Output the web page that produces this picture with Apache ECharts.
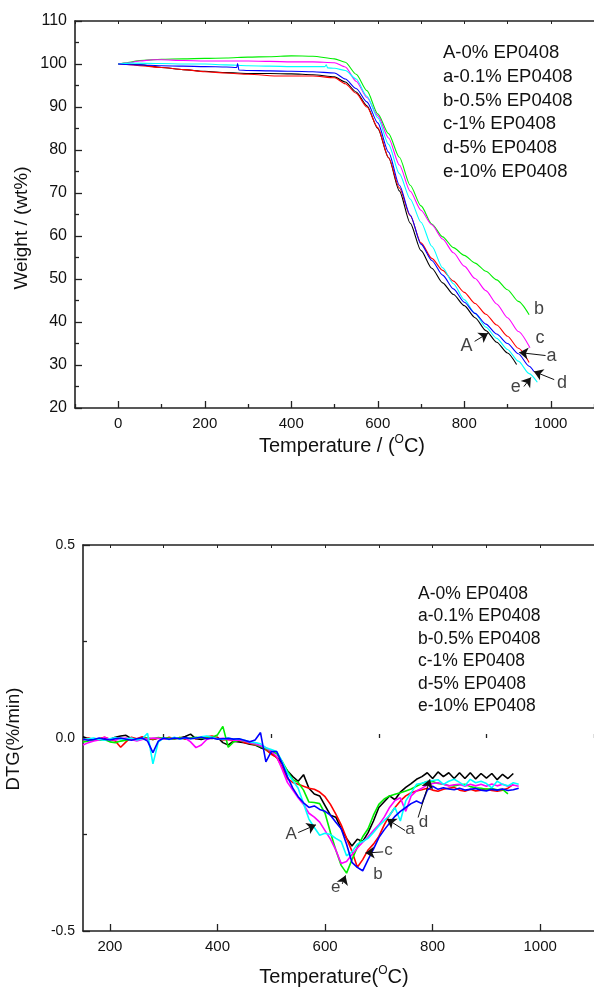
<!DOCTYPE html>
<html>
<head>
<meta charset="utf-8">
<script src="https://cdn.jsdelivr.net/npm/echarts@6/dist/echarts.min.js"></script>
<style>html,body{margin:0;padding:0;background:#fff}#c{width:594px;height:989px}</style>
</head>
<body>
<div id="c"></div>
<script>
// ---------- TGA (top) ----------
const tgaT_A = [0,20,50,100,150,200,250,300,350,400,450,500,525,550,575,600,625,650,675,700,725,750,775,800,825,850,875,900,921];
const tgaW_A = [100,100,99.8,99.2,98.7,98.3,98.0,97.8,97.8,97.7,97.5,97.0,95.8,93.5,90.3,85.0,78.2,70.5,63.0,56.6,52.5,49.1,46.4,43.8,41.0,38.0,35.3,32.8,30.1];
const tgaT_a = [0,20,50,100,150,200,250,300,375,450,500,525,550,575,600,625,650,675,700,725,750,775,800,825,850,875,900,925,950];
const tgaW_a = [100,99.9,99.6,99.2,98.7,98.2,97.9,97.6,97.2,97.2,96.8,95.4,93.2,90.0,85.2,78.2,71.2,64.7,58.4,54.8,52.0,49.5,46.9,44.3,41.8,39.3,36.7,33.9,30.6];
const tgaT_b = [0,20,50,100,150,200,250,300,350,400,450,500,525,550,575,600,625,650,675,700,725,750,775,800,825,850,875,900,925,950];
const tgaW_b = [100,100.3,100.8,101.1,101.2,101.3,101.4,101.6,101.7,101.9,101.8,101.2,100.4,97.6,93.8,88.4,83.8,78.3,71.8,67.0,62.8,59.8,57.3,55.5,53.7,51.8,49.8,47.5,44.8,41.7];
const tgaT_c = [0,20,50,80,100,150,200,250,300,350,400,450,500,525,550,575,600,625,650,675,700,725,750,775,800,825,850,875,900,925,952];
const tgaW_c = [100,100.2,100.7,101.0,101.0,100.8,100.7,100.7,100.7,100.6,100.5,100.5,100.3,99.3,96.0,92.2,88.0,82.8,76.5,70.4,66.0,62.6,59.3,56.1,53.0,50.1,47.3,44.2,41.0,37.8,34.0];
const tgaT_d = [0,50,71,100,150,200,250,274,276,279,300,350,400,450,500,525,550,575,600,625,650,675,700,725,750,775,800,825,850,875,900,925,950,961];
const tgaW_d = [100,99.8,99.7,99.6,99.5,99.4,99.3,99.2,100.1,98.6,98.5,98.4,98.3,98.2,97.9,96.5,94.3,91.2,86.3,79.5,71.8,64.9,58.1,54.3,50.9,47.7,44.6,42.0,39.5,37.2,35.0,32.6,29.7,28.5];
const tgaT_e = [0,30,100,150,200,250,300,350,400,450,478,481,484,500,525,550,575,600,625,650,675,700,725,750,775,800,825,850,875,900,925,950,969];
const tgaW_e = [100,100.2,100.1,100.0,100.0,99.8,99.6,99.5,99.4,99.4,99.4,99.8,99.1,99.0,98.5,96.5,92.5,87.5,81.3,74.5,68.6,63.2,57.6,52.6,48.9,45.2,42.0,38.8,36.2,33.6,30.9,28.0,26.0];

const tgaXLabels = [0,200,400,600,800,1000];
const tgaXMinor = [-100,100,300,500,700,900,1100];
const tgaTopTicks = [-100,0,100,200,300,400,500,600,700,800,900,1000,1100];

const tgaLabels = [['b',973,43.1],['c',975,36.3],['a',1002,32.0],['d',1026,25.8],['e',919,24.9],['A',805,34.3]];
const tgaArrows = [[824,35.5,855,37.4],[988,32.2,927,32.9],[1008,26.6,961,28.5],[938,25.0,954,27.1]];

// ---------- DTG (bottom) ----------
const dtgT = [150,160,170,180,190,200,210,220,230,240,250,260,270,280,290,300,310,320,330,340,350,360,370,380,390,400,410,420,430,440,450,460,470,
  480,490,500,510,520,530,540,550,560,570,580,590,600,610,620,630,640,650,660,670,680,690,700,710,720,730,740,750,760,770,780,790,800,810,820,830,840,850,860,870,880,890,900,910,920,930,940,950,960];
const dtg_A = [0.003,-0.002,-0.005,-0.006,0.0,-0.004,0.002,0.005,0.007,-0.002,-0.003,0.0,-0.002,-0.004,0.0,-0.003,-0.001,-0.002,0.0,0.004,0.01,-0.002,-0.004,0.0,-0.001,0.002,-0.012,-0.018,-0.008,-0.01,-0.012,-0.016,-0.018,
  -0.025,-0.03,-0.04,-0.05,-0.065,-0.085,-0.1,-0.112,-0.095,-0.13,-0.145,-0.15,-0.175,-0.2,-0.205,-0.235,-0.26,-0.28,-0.262,-0.268,-0.245,-0.215,-0.18,-0.165,-0.15,-0.16,-0.14,-0.128,-0.118,-0.107,-0.1,-0.09,-0.105,-0.088,-0.1,-0.09,-0.105,-0.09,-0.105,-0.09,-0.106,-0.092,-0.104,-0.092,-0.108,-0.094,-0.105,-0.092];
const dtg_a = [-0.005,0.0,-0.004,-0.002,0.002,-0.003,-0.008,-0.024,-0.01,0.002,-0.002,0.003,-0.001,-0.004,0.0,-0.003,0.002,-0.002,0.001,-0.003,0.0,-0.002,0.001,0.003,0.005,0.0,-0.005,-0.004,-0.008,-0.006,-0.012,-0.014,-0.018,
  -0.02,-0.03,-0.042,-0.05,-0.075,-0.105,-0.115,-0.12,-0.125,-0.13,-0.133,-0.14,-0.152,-0.172,-0.197,-0.225,-0.26,-0.293,-0.335,-0.315,-0.29,-0.275,-0.255,-0.225,-0.2,-0.18,-0.163,-0.15,-0.142,-0.137,-0.134,-0.13,-0.135,-0.138,-0.133,-0.13,-0.128,-0.135,-0.138,-0.133,-0.137,-0.135,-0.132,-0.136,-0.138,-0.135,-0.13,-0.12];
const dtg_b = [-0.01,-0.008,-0.005,-0.006,-0.004,-0.01,-0.012,-0.008,-0.006,-0.003,-0.005,-0.002,0.0,-0.002,0.001,-0.001,0.0,-0.002,0.001,-0.001,0.0,0.002,0.0,-0.001,0.002,0.008,0.03,-0.024,-0.01,-0.006,-0.008,-0.012,-0.016,
  -0.022,-0.028,-0.035,-0.04,-0.06,-0.085,-0.108,-0.115,-0.135,-0.166,-0.167,-0.17,-0.195,-0.245,-0.29,-0.33,-0.35,-0.315,-0.283,-0.256,-0.235,-0.2,-0.172,-0.158,-0.15,-0.146,-0.142,-0.137,-0.132,-0.125,-0.118,-0.113,-0.113,-0.118,-0.12,-0.123,-0.124,-0.121,-0.12,-0.126,-0.129,-0.13,-0.133,-0.131,-0.134,-0.133,-0.145];
const dtg_c = [-0.018,-0.012,-0.008,-0.005,0.002,-0.003,-0.006,-0.002,0.0,-0.004,-0.008,-0.004,-0.002,0.0,-0.001,-0.003,-0.002,0.0,-0.002,0.0,-0.01,-0.025,-0.018,-0.004,0.0,-0.002,-0.001,-0.004,-0.006,-0.005,-0.008,-0.012,-0.015,
  -0.02,-0.025,-0.035,-0.048,-0.08,-0.115,-0.135,-0.155,-0.172,-0.195,-0.205,-0.218,-0.24,-0.262,-0.29,-0.325,-0.32,-0.302,-0.285,-0.27,-0.256,-0.24,-0.225,-0.205,-0.18,-0.162,-0.155,-0.19,-0.15,-0.137,-0.13,-0.122,-0.118,-0.116,-0.12,-0.124,-0.121,-0.12,-0.125,-0.12,-0.124,-0.12,-0.125,-0.119,-0.124,-0.12,-0.125,-0.122,-0.125];
const dtg_d = [-0.003,-0.006,-0.004,0.0,-0.003,-0.005,-0.002,0.0,-0.003,-0.006,-0.002,0.0,-0.008,-0.038,-0.008,0.0,-0.003,0.0,-0.002,0.001,-0.002,0.0,0.002,-0.002,0.0,-0.003,-0.002,-0.001,-0.003,-0.002,-0.006,-0.01,-0.005,
  0.014,-0.062,-0.035,-0.035,-0.065,-0.1,-0.13,-0.152,-0.168,-0.18,-0.176,-0.185,-0.19,-0.2,-0.218,-0.235,-0.275,-0.322,-0.335,-0.344,-0.315,-0.288,-0.258,-0.238,-0.22,-0.203,-0.19,-0.18,-0.17,-0.163,-0.17,-0.135,-0.125,-0.133,-0.129,-0.132,-0.134,-0.13,-0.135,-0.133,-0.131,-0.135,-0.137,-0.133,-0.135,-0.132,-0.136,-0.134,-0.13];
const dtg_e = [-0.004,-0.002,0.0,-0.004,-0.006,-0.002,0.001,-0.003,-0.002,0.0,-0.005,-0.002,0.012,-0.067,-0.01,0.0,-0.004,0.002,-0.003,0.0,-0.002,0.0,0.003,0.005,0.002,-0.002,-0.004,0.0,-0.003,-0.002,-0.006,-0.01,-0.012,
  -0.015,-0.025,-0.03,-0.035,-0.06,-0.09,-0.11,-0.13,-0.17,-0.21,-0.232,-0.252,-0.247,-0.25,-0.26,-0.268,-0.305,-0.295,-0.275,-0.268,-0.26,-0.245,-0.228,-0.214,-0.2,-0.18,-0.215,-0.163,-0.142,-0.12,-0.117,-0.113,-0.11,-0.108,-0.12,-0.112,-0.107,-0.115,-0.124,-0.107,-0.116,-0.112,-0.118,-0.129,-0.112,-0.12,-0.124,-0.116,-0.12];

const dtgXLabels = [200,400,600,800,1000];
const dtgXMinor = [300,500,700,900,1100];
const dtgTopTicks = [200,300,400,500,600,700,800,900,1000,1100];

const dtgLabels = [['A',537,-0.249],['a',758,-0.236],['d',783,-0.219],['c',718,-0.292],['b',698.5,-0.352],['e',620,-0.387]];
const dtgArrows = [[550,-0.245,583,-0.225],[749,-0.240,715,-0.210],[773,-0.206,795,-0.107],[708,-0.295,675,-0.298],[632,-0.378,638,-0.356]];

const legendLines = ['A-0% EP0408','a-0.1% EP0408','b-0.5% EP0408','c-1% EP0408','d-5% EP0408','e-10% EP0408'];
const colors = {A:'#000000', a:'#ff0000', b:'#00ee00', c:'#ff00ff', d:'#0000ff', e:'#00ffff'};

// ---------- build ----------
const FONT = 'Liberation Sans';
const axisCol = '#222';
function pairs(ts, vs){ return vs.map((v,i)=>[ts[i], v]); }
const plain = v => String(v);

const chart = echarts.init(document.getElementById('c'), null, {renderer:'canvas'});

function baseX(grid, min, max, extra){
  return Object.assign({type:'value', gridIndex:grid, min:min, max:max, splitLine:{show:false}}, extra);
}

const xAxes = [
  baseX(0,-100,1100,{position:'bottom', axisLine:{show:true,onZero:false,lineStyle:{color:axisCol,width:1.6}},
    axisTick:{show:true,inside:true,length:7,customValues:tgaXLabels,lineStyle:{color:axisCol,width:1.3}},
    axisLabel:{show:true,customValues:tgaXLabels,formatter:plain,fontFamily:FONT,fontSize:15,color:'#111',margin:8}}),
  baseX(0,-100,1100,{position:'bottom', axisLine:{show:false},
    axisTick:{show:true,inside:true,length:4,customValues:tgaXMinor,lineStyle:{color:axisCol,width:1.3}},
    axisLabel:{show:false}}),
  baseX(0,-100,1100,{position:'top', axisLine:{show:true,onZero:false,lineStyle:{color:axisCol,width:1.6}},
    axisTick:{show:true,inside:true,length:3,customValues:tgaTopTicks,lineStyle:{color:axisCol,width:1}},
    axisLabel:{show:false}}),
  baseX(1,150,1100,{position:'bottom', axisLine:{show:true,onZero:false,lineStyle:{color:axisCol,width:1.6}},
    axisTick:{show:true,inside:true,length:7,customValues:dtgXLabels,lineStyle:{color:axisCol,width:1.3}},
    axisLabel:{show:true,customValues:dtgXLabels,formatter:plain,fontFamily:FONT,fontSize:15,color:'#111',margin:8}}),
  baseX(1,150,1100,{position:'bottom', axisLine:{show:false},
    axisTick:{show:true,inside:true,length:4,customValues:dtgXMinor,lineStyle:{color:axisCol,width:1.3}},
    axisLabel:{show:false}}),
  baseX(1,150,1100,{position:'top', axisLine:{show:true,onZero:false,lineStyle:{color:axisCol,width:1.6}},
    axisTick:{show:true,inside:true,length:3,customValues:dtgTopTicks,lineStyle:{color:axisCol,width:1}},
    axisLabel:{show:false}})
];

const yAxes = [
  {type:'value', gridIndex:0, min:20, max:110, interval:10, position:'left',
   axisLine:{show:true,onZero:false,lineStyle:{color:axisCol,width:1.6}},
   axisTick:{show:true,inside:true,length:7,lineStyle:{color:axisCol,width:1.3}},
   minorTick:{show:true,splitNumber:2,length:4,lineStyle:{color:axisCol,width:1.3}},
   axisLabel:{fontFamily:FONT,fontSize:16,color:'#111',margin:8,formatter:plain},
   splitLine:{show:false}},
  {type:'value', gridIndex:1, min:-0.5, max:0.5, interval:0.5, position:'left',
   axisLine:{show:true,onZero:false,lineStyle:{color:axisCol,width:1.6}},
   axisTick:{show:true,inside:true,length:7,lineStyle:{color:axisCol,width:1.3}},
   minorTick:{show:true,splitNumber:2,length:4,lineStyle:{color:axisCol,width:1.3}},
   axisLabel:{fontFamily:FONT,fontSize:14,color:'#111',margin:8,formatter:v=>v.toFixed(1)},
   splitLine:{show:false}}
];

const series = [];
const tga = [['A',tgaT_A,tgaW_A],['a',tgaT_a,tgaW_a],['b',tgaT_b,tgaW_b],['c',tgaT_c,tgaW_c],['e',tgaT_e,tgaW_e],['d',tgaT_d,tgaW_d]];
tga.forEach(([k,ts,ws])=>{
  series.push({type:'line', name:'tga'+k, xAxisIndex:0, yAxisIndex:0, data:pairs(ts,ws), showSymbol:false, symbol:'none',
    smooth:0.25, smoothMonotone:'x', lineStyle:{color:colors[k],width:1.1}, silent:true, animation:false, z:3});
});
const dtg = [['A',dtg_A],['a',dtg_a],['b',dtg_b],['c',dtg_c],['e',dtg_e],['d',dtg_d]];
dtg.forEach(([k,vs])=>{
  series.push({type:'line', name:'dtg'+k, xAxisIndex:3, yAxisIndex:1, data:pairs(dtgT,vs), showSymbol:false, symbol:'none',
    smooth:false, lineStyle:{color:colors[k],width:1.6}, silent:true, animation:false, z:3});
});

function annot(xi, yi, labels, arrows, fs){
  return {type:'scatter', xAxisIndex:xi, yAxisIndex:yi, symbolSize:0, silent:true, animation:false, z:5,
    data:labels.map(l=>({value:[l[1],l[2]], name:l[0]})),
    label:{show:true, position:'inside', formatter:p=>p.name, fontFamily:FONT, fontSize:fs, color:'#111'},
    markLine:{silent:true, animation:false, symbol:['none','arrow'], symbolSize:9, label:{show:false},
      lineStyle:{color:'#111', width:1, type:'solid', opacity:1},
      itemStyle:{color:'#111'},
      emphasis:{disabled:true},
      data:arrows.map(a=>[{coord:[a[0],a[1]]},{coord:[a[2],a[3]]}])}};
}
series.push(annot(0,0,tgaLabels,tgaArrows,18));
series.push(annot(3,1,dtgLabels,dtgArrows,17));

const graphic = [
  {type:'text', x:443, y:41, style:{text:legendLines.join('\n'), font:'18.5px "Liberation Sans"', fill:'#111', lineHeight:23.8, verticalAlign:'top'}},
  {type:'text', x:418, y:583, style:{text:legendLines.join('\n'), font:'17.5px "Liberation Sans"', fill:'#111', lineHeight:22.4, verticalAlign:'top'}},
  {type:'text', x:22, y:228, rotation:Math.PI/2, style:{text:'Weight / (wt%)', font:'19px "Liberation Sans"', fill:'#111', align:'center', verticalAlign:'middle'}},
  {type:'text', x:14, y:739, rotation:Math.PI/2, style:{text:'DTG(%/min)', font:'18.5px "Liberation Sans"', fill:'#111', align:'center', verticalAlign:'middle'}},
  {type:'text', x:342, y:446, style:{text:'Temperature / ({s|O}C)', font:'20px "Liberation Sans"', fill:'#111', align:'center', verticalAlign:'middle',
     rich:{s:{fontSize:12, fontFamily:FONT, fill:'#111', verticalAlign:'top', lineHeight:24}}}},
  {type:'text', x:334, y:977, style:{text:'Temperature({s|O}C)', font:'20px "Liberation Sans"', fill:'#111', align:'center', verticalAlign:'middle',
     rich:{s:{fontSize:12, fontFamily:FONT, fill:'#111', verticalAlign:'top', lineHeight:24}}}}
];

chart.setOption({
  animation:false,
  backgroundColor:'#fff',
  grid:[
    {left:75, top:21, width:526, height:387, containLabel:false},
    {left:83, top:545, width:517, height:386, containLabel:false}
  ],
  xAxis:xAxes,
  yAxis:yAxes,
  series:series,
  graphic:graphic
});
</script>
</body>
</html>
